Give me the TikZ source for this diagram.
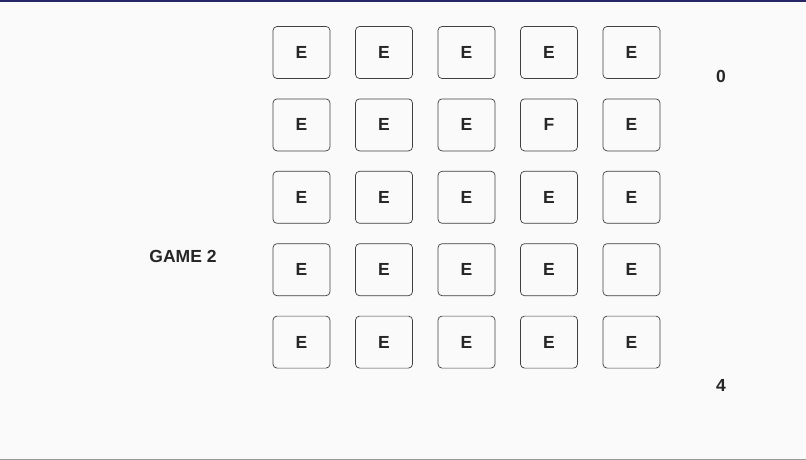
\documentclass[tikz,border=0pt]{standalone}
\usepackage{fontspec}
\setmainfont{Liberation Sans}
\begin{document}
\begin{tikzpicture}[x=1pt,y=-1pt,
  cell/.style={draw=black!75,rounded corners=4pt,minimum width=57pt,minimum height=52pt,line width=0.7pt,font=\bfseries\fontsize{17.5}{17.5}\selectfont,text=black!85},
  lbl/.style={font=\bfseries\fontsize{17.5}{17.5}\selectfont,text=black!85}]
\fill[white!98!black] (0,0) rectangle (806,460);
\useasboundingbox (0,0) rectangle (806,460);
\fill[blue!30!black!85] (0,0) rectangle (806,2);
\fill[black!40] (0,459) rectangle (806,460);
\foreach \r in {0,...,4}{
  \foreach \c in {0,...,4}{
    \pgfmathsetmacro\xx{301.5+82.5*\c}
    \pgfmathsetmacro\yy{52.5+72.4*\r}
    \ifnum\r=1 \ifnum\c=3 \def\t{F}\else\def\t{E}\fi\else\def\t{E}\fi
    \node[cell] (c\r\c) at (\xx,\yy) {\t};
  }
}
\node[lbl] (game) at (183,256) {GAME 2};
\node[lbl] (top) at (721,76) {0};
\node[lbl] (bot) at (721,385) {4};
\end{tikzpicture}
\end{document}
